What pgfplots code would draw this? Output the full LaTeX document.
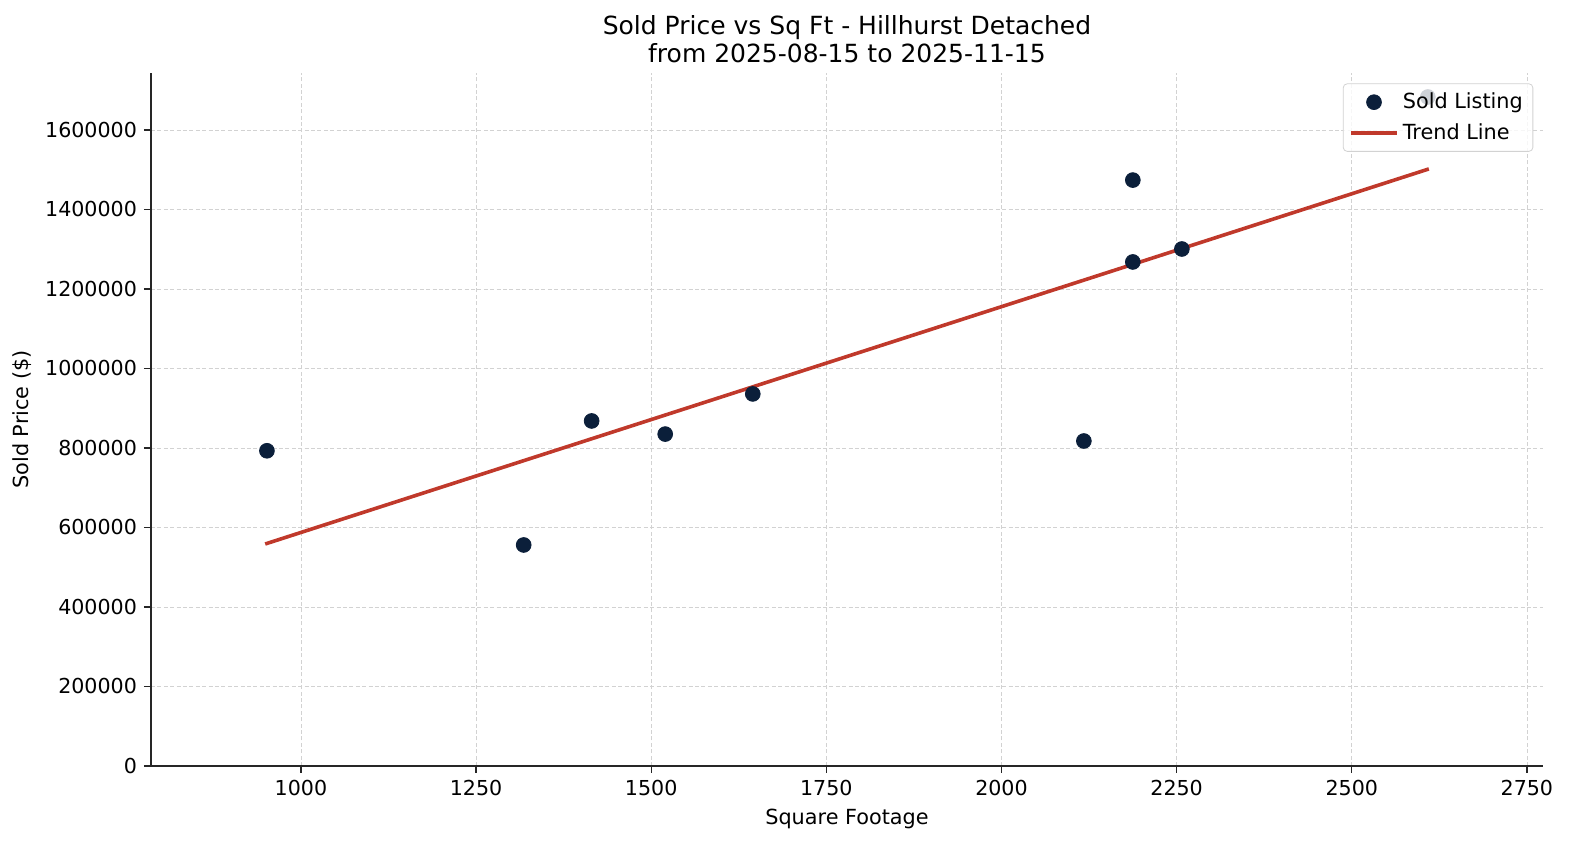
\documentclass[border=0pt]{standalone}
\usepackage{fontspec}
\setmainfont{DejaVu Sans}
\usepackage{pgfplots}
\pgfplotsset{compat=1.18}
\definecolor{navy}{HTML}{0B1F3A}
\definecolor{trend}{HTML}{C0392B}
\pgfplotsset{
  dotlegend/.style={legend image code/.code={\draw[##1] plot coordinates {(11.5pt,0pt)};}},
  linelegend/.style={legend image code/.code={\draw[##1] (0pt,0pt) -- (23pt,0pt);}},
}
\begin{document}
\begin{tikzpicture}
\begin{axis}[
  scale only axis,
  width=696pt, height=346.5pt,
  xmin=786, xmax=2773,
  ymin=0, ymax=1743400,
  axis lines*=left,
  axis line style={line width=0.8pt, black!85},
  xtick={1000,1250,...,2750},
  ytick={0,200000,...,1600000},
  scaled y ticks=false,
  /pgf/number format/assume math mode=true,
  xticklabel style={/pgf/number format/fixed,/pgf/number format/1000 sep={}},
  yticklabel style={/pgf/number format/fixed,/pgf/number format/1000 sep={}},
  tick label style={font=\fontsize{10.3}{12}\selectfont},
  label style={font=\fontsize{10.4}{12}\selectfont},
  tick align=outside,
  tick style={black!85, line width=0.6pt},
  major tick length=3.5pt,
  grid=major,
  grid style={dash pattern=on 2pt off 1.2pt, gray!35, line width=0.35pt},
  xlabel={Square Footage},
  ylabel={Sold Price (\$)},
  title={Sold Price vs Sq Ft - Hillhurst Detached\\from 2025-08-15 to 2025-11-15},
  title style={font=\fontsize{12.5}{14}\selectfont, align=center, yshift=-4.5pt},
  legend style={at={(0.993,0.985)}, anchor=north east, font=\fontsize{10.4}{12}\selectfont,
    draw=gray!35, rounded corners=2pt, fill=white, fill opacity=0.8, draw opacity=1, text opacity=1,
    row sep=2pt, inner xsep=3pt, inner ysep=2.5pt},
  legend image post style={opacity=1},
  legend cell align=left,
]
\addplot[only marks, mark=*, mark size=3.7pt, color=navy, dotlegend] coordinates {
  (951.5,793000) (1318,556000) (1415,868000) (1520,835000) (1645,936000)
  (2117.6,817600) (2187.5,1474000) (2187.5,1268000) (2257.5,1300600) (2608.6,1683000)
};
\addlegendentry{Sold Listing}
\addplot[color=trend, line width=1.8pt, linelegend] coordinates {
  (949,558500) (2610,1502000)
};
\addlegendentry{Trend Line}
\end{axis}
\path (current axis.south west) ++(-75.5pt,-39.5pt) coordinate (bl);
\useasboundingbox (bl) rectangle ++(785pt,422.5pt);
\end{tikzpicture}
\end{document}
